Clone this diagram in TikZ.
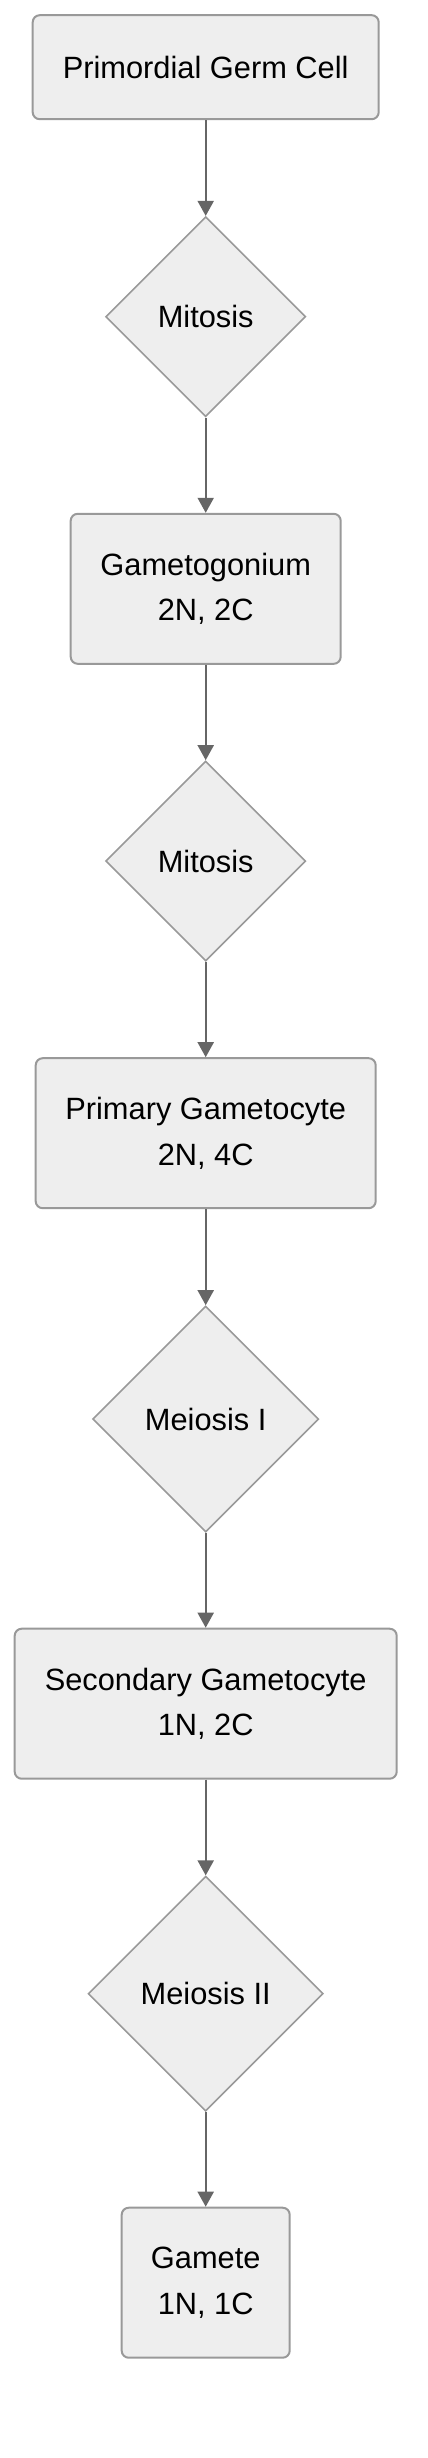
\documentclass[tikz,border=0pt]{standalone}
\usepackage{fontspec}
\setmainfont{Liberation Sans}
\usepackage{xcolor}
\usetikzlibrary{arrows.meta,shapes.geometric}
\definecolor{boxfill}{HTML}{EEEEEE}
\definecolor{boxline}{HTML}{999999}
\definecolor{arrowc}{HTML}{666666}

\begin{document}
\begin{tikzpicture}[x=0.5pt,y=-0.5pt,
  font=\fontsize{15.4}{22.8}\selectfont,
  cellbox/.style={draw=boxline,fill=boxfill,line width=1pt,rounded corners=3.5pt,
                  align=center,inner sep=0pt},
  phase/.style={diamond,draw=boxline,fill=boxfill,line width=0.8pt,inner sep=0pt,aspect=1},
  flow/.style={draw=arrowc,line width=1pt,-{Triangle[width=8pt,length=7.5pt]}}]
\useasboundingbox (0,0) rectangle (428,2458);
% cells and divisions, top to bottom
\node[cellbox,minimum width=173pt,minimum height=52pt] (pgc) at (205.7,67.2) {Primordial Germ Cell};
\node[phase,minimum size=100pt] (mit1) at (205.7,316.7) {Mitosis};
\node[cellbox,minimum width=135pt,minimum height=75pt] (gon) at (205.7,588.8) {Gametogonium\\2N, 2C};
\node[phase,minimum size=100pt] (mit2) at (205.7,861) {Mitosis};
\node[cellbox,minimum width=170pt,minimum height=75pt] (prim) at (205.7,1133.2) {Primary Gametocyte\\2N, 4C};
\node[phase,minimum size=113pt] (mei1) at (205.7,1419) {Meiosis I};
\node[cellbox,minimum width=191pt,minimum height=75pt] (sec) at (205.7,1703.7) {Secondary Gametocyte\\1N, 2C};
\node[phase,minimum size=117.5pt] (mei2) at (205.7,1993.7) {Meiosis II};
\node[cellbox,minimum width=84pt,minimum height=75pt] (gam) at (205.7,2282.7) {Gamete\\1N, 1C};
% arrows
\foreach \a/\b in {pgc/mit1,mit1/gon,gon/mit2,mit2/prim,prim/mei1,mei1/sec,sec/mei2,mei2/gam}
  \draw[flow] (\a) -- (\b);
\end{tikzpicture}
\end{document}
